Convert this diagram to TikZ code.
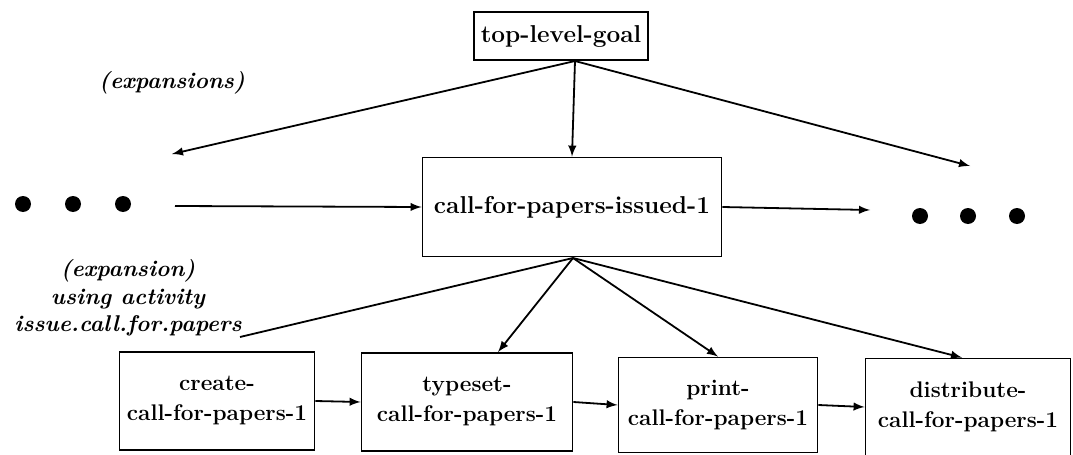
\documentclass[tikz,border=0pt]{standalone}
\usepackage{tikz}

\begin{document}
\begin{tikzpicture}[x=0.5pt,y=-0.5pt,line width=0.9pt,>=latex,
  goalbox/.style={draw,align=center,inner sep=2pt,font=\fontsize{12.2}{14}\selectfont\bfseries},
  stepbox/.style={draw,align=center,inner sep=2pt,font=\fontsize{11.3}{15}\selectfont\bfseries},
  note/.style={align=center,font=\fontsize{11.4}{13.8}\selectfont\bfseries\itshape},
  dot/.style={circle,fill=black,inner sep=0pt,minimum size=8pt}]
\path[use as bounding box] (0,0) rectangle (1073,455);
% goal nodes
\node[goalbox,minimum width=87pt,minimum height=24pt] (top) at (561,36) {top-level-goal};
\node[goalbox,minimum width=149.5pt,minimum height=49.5pt] (cfp) at (572,207) {call-for-papers-issued-1};
\foreach \i/\x in {1/23,2/73,3/123} {\node[dot] (l\i) at (\x,204) {};}
\foreach \i/\x in {1/920,2/968,3/1017} {\node[dot] (r\i) at (\x,216) {};}
% step nodes
\node[stepbox,minimum width=97.5pt,minimum height=49pt] (cre) at (217,401) {create-\\call-for-papers-1};
\node[stepbox,minimum width=105.5pt,minimum height=49pt] (typ) at (467,402) {typeset-\\call-for-papers-1};
\node[stepbox,minimum width=99.5pt,minimum height=47.5pt] (prt) at (718,405) {print-\\call-for-papers-1};
\node[stepbox,minimum width=102.5pt,minimum height=48.5pt] (dst) at (968,407) {distribute-\\call-for-papers-1};
% labels
\node[note] (exps) at (172,83) {(expansions)};
\node[note] (act) at (128,298) {(expansion)\\using activity\\issue.call.for.papers};
% connectors
\coordinate (tf) at (575,61); \coordinate (bf) at (573,258);
\coordinate (lout) at (172,154); \coordinate (rout) at (970,166);
\coordinate (lin) at (175,206); \coordinate (rin) at (870,210);
\coordinate (ae) at (240,337);
\draw[->] (tf)--(lout);
\draw[->] (tf)--(rout);
\draw[->] (tf)--(cfp.north);
\draw[->] (lin)--(cfp.west);
\draw[->] (cfp.east)--(rin);
\draw (bf)--(ae);
\draw[->] (bf)--([xshift=15.5pt]typ.north);
\draw[->] (bf)--(prt.north);
\draw[->] (bf)--([xshift=-3pt]dst.north);
\draw[->] (cre.east)--(typ.west);
\draw[->] (typ.east)--(prt.west);
\draw[->] (prt.east)--(dst.west);
\end{tikzpicture}
\end{document}
